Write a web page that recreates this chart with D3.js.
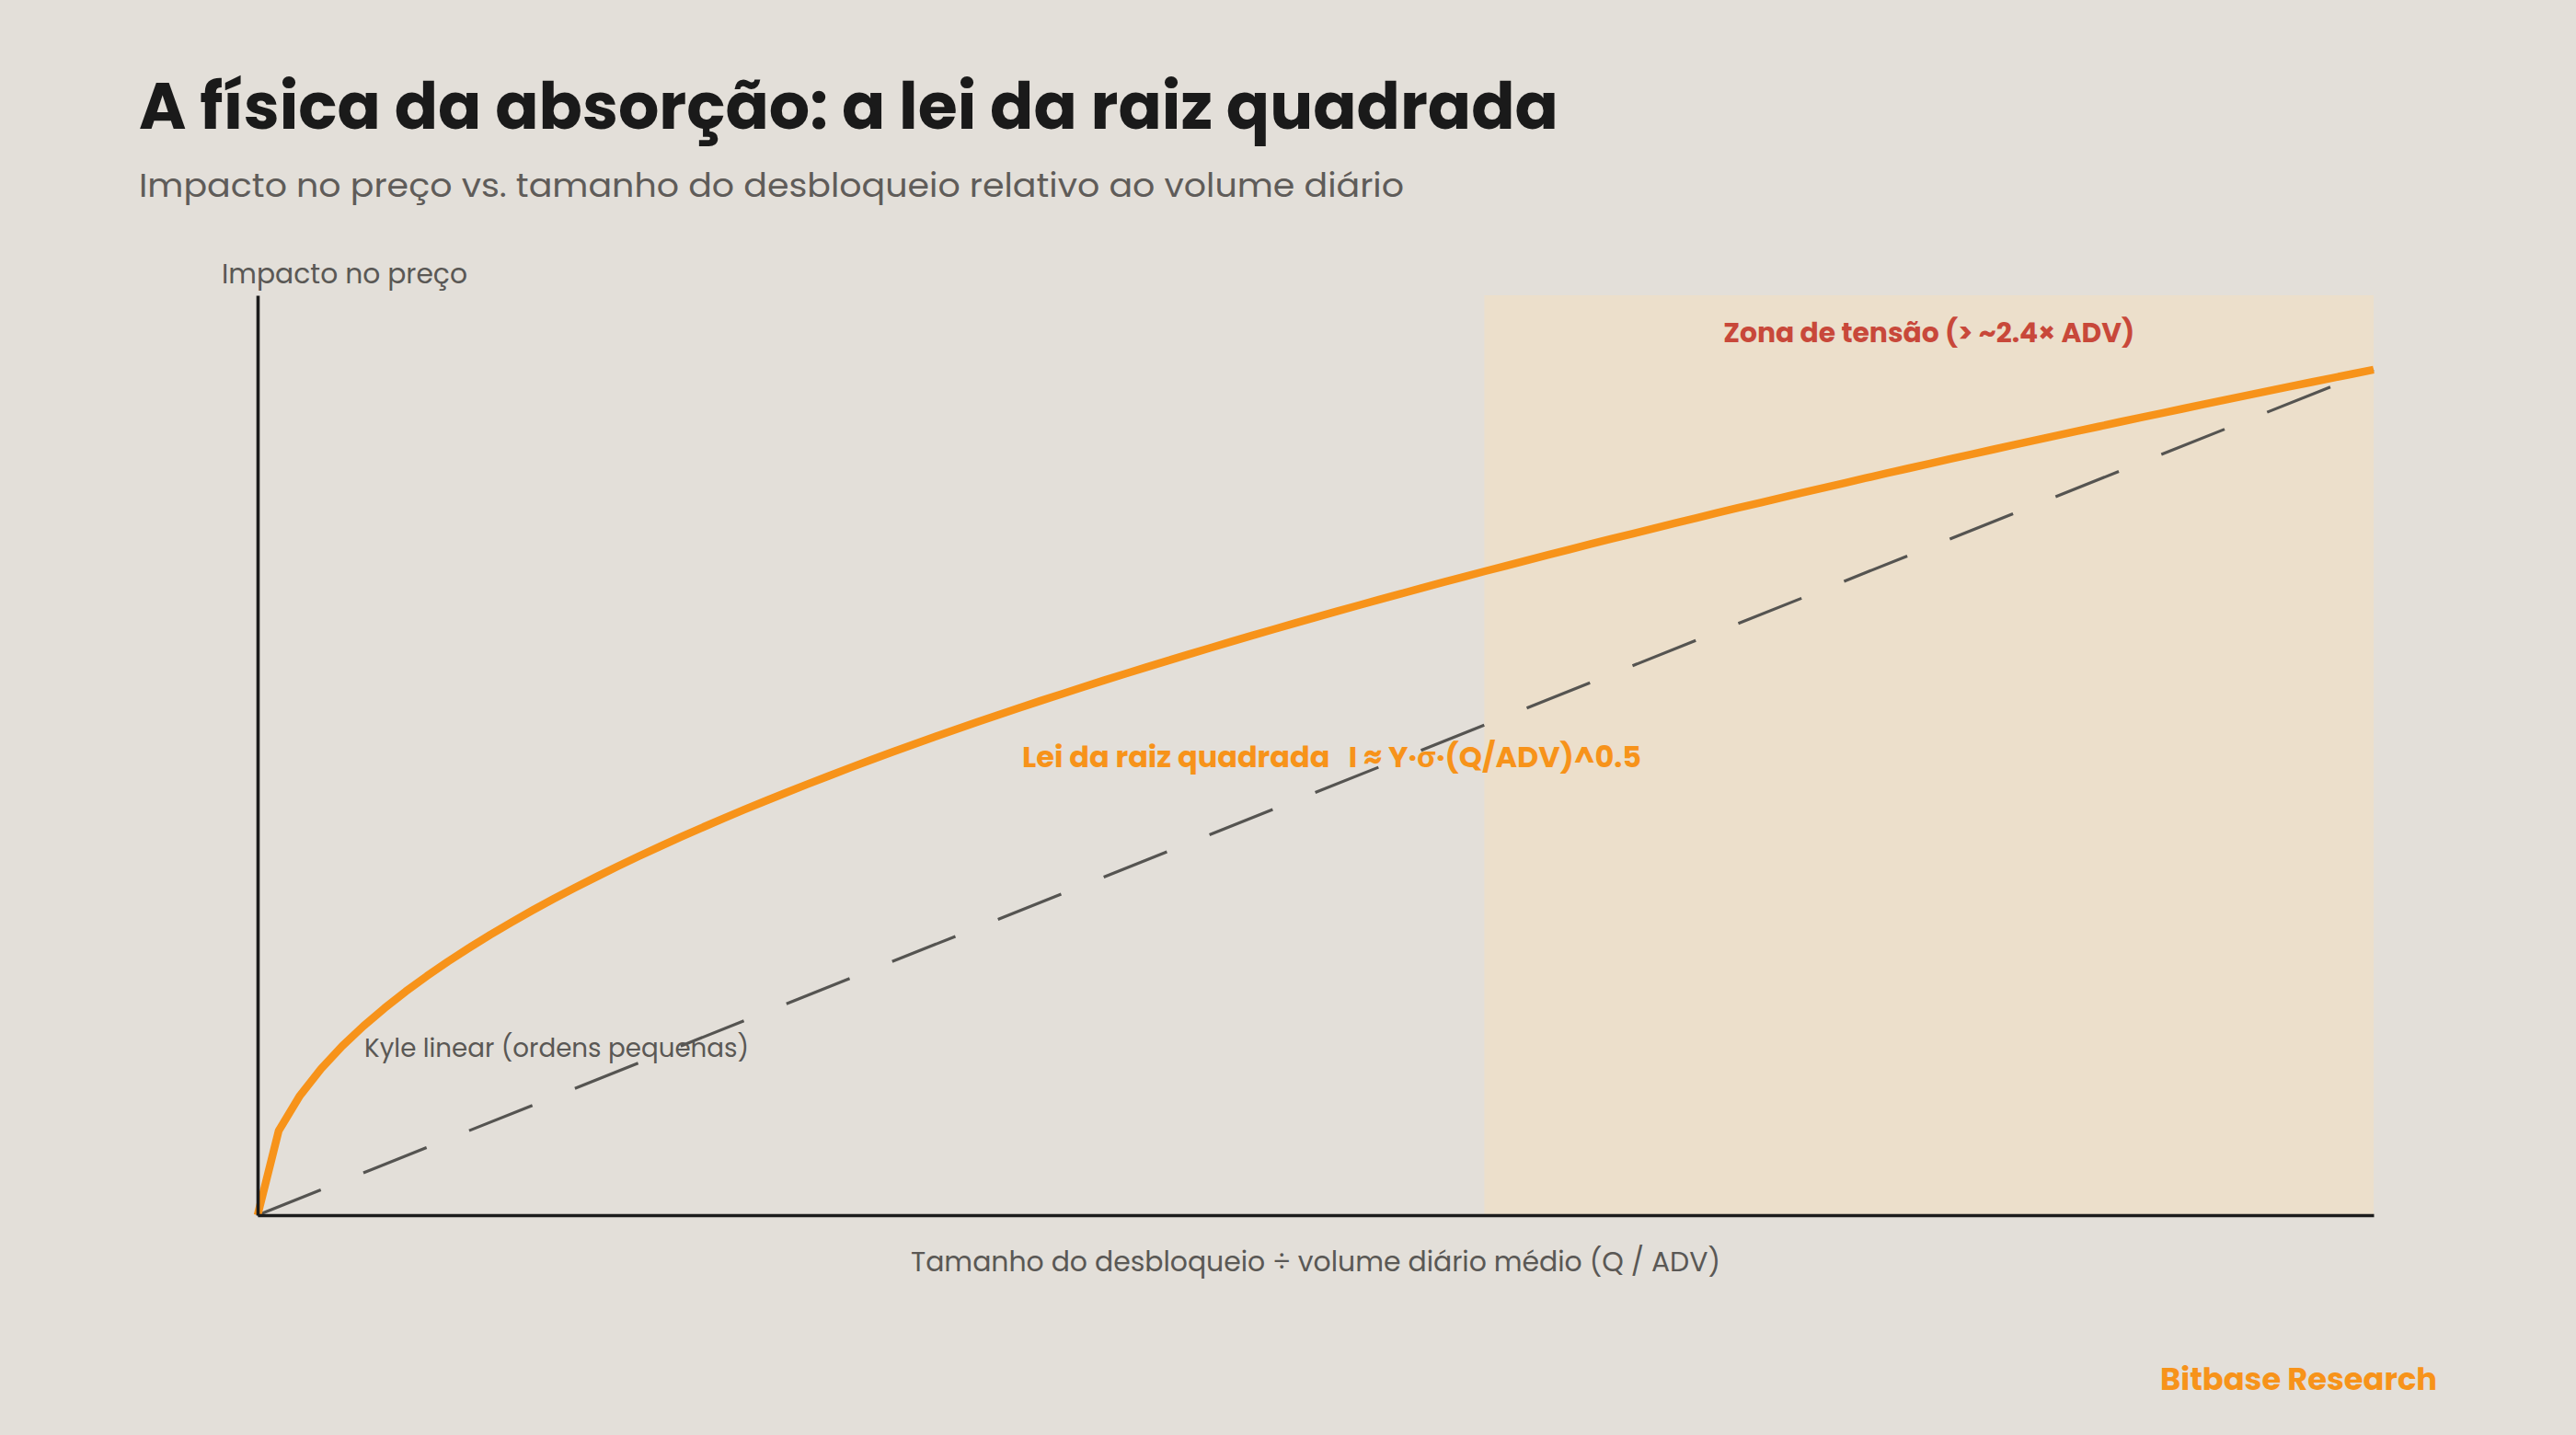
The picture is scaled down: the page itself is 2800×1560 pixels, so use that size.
<!DOCTYPE html>
<html>
<head>
<meta charset="utf-8">
<script src="https://cdn.jsdelivr.net/npm/d3@7"></script>
<style>
  html, body { margin: 0; padding: 0; background: #e3dfd9; }
  svg { display: block; }
  text { font-family: "Poppins", "Inter", "Noto Sans", sans-serif; }
</style>
</head>
<body>
<svg id="chart" width="2800" height="1560"></svg>
<script>
// ---------- data ----------
const titleText = "A física da absorção: a lei da raiz quadrada";
const subtitleText = "Impacto no preço vs. tamanho do desbloqueio relativo ao volume diário";
const yAxisLabel = "Impacto no preço";
const xAxisLabel = "Tamanho do desbloqueio ÷ volume diário médio (Q / ADV)";
const curveLabel = "Lei da raiz quadrada\u00A0\u00A0 I ≈ Y·σ·(Q/ADV)^0.5";
const kyleLabel = "Kyle linear (ordens pequenas)";
const zoneLabel = "Zona de tensão (> ~2.4× ADV)";
const sourceLabel = "Bitbase Research";

// Q/ADV sample points (x) and normalised price impact (y)
const qAdv = [0,0.0414,0.0828,0.1242,0.1656,0.207,0.2484,0.2898,0.3312,0.3726,
  0.414,0.4554,0.4968,0.5382,0.5796,0.621,0.6624,0.7038,0.7452,0.7866,
  0.828,0.8694,0.9108,0.9522,0.9936,1.035,1.0764,1.1178,1.1592,1.2006,
  1.242,1.2834,1.3248,1.3662,1.4076,1.449,1.4904,1.5318,1.5732,1.6146,
  1.656,1.6974,1.7388,1.7802,1.8216,1.863,1.9044,1.9458,1.9872,2.0286,
  2.07,2.1114,2.1528,2.1942,2.2356,2.277,2.3184,2.3598,2.4012,2.4426,
  2.484,2.5254,2.5668,2.6082,2.6496,2.691,2.7324,2.7738,2.8152,2.8566,
  2.898,2.9394,2.9808,3.0222,3.0636,3.105,3.1464,3.1878,3.2292,3.2706,
  3.312,3.3534,3.3948,3.4362,3.4776,3.519,3.5604,3.6018,3.6432,3.6846,
  3.726,3.7674,3.8088,3.8502,3.8916,3.933,3.9744,4.0158,4.0572,4.0986,4.14];
const sqrtImpact = [0,0.1,0.1414,0.1732,0.2,0.2236,0.2449,0.2646,0.2828,0.3,
  0.3162,0.3317,0.3464,0.3606,0.3742,0.3873,0.4,0.4123,0.4243,0.4359,
  0.4472,0.4583,0.469,0.4796,0.4899,0.5,0.5099,0.5196,0.5292,0.5385,
  0.5477,0.5568,0.5657,0.5745,0.5831,0.5916,0.6,0.6083,0.6164,0.6245,
  0.6325,0.6403,0.6481,0.6557,0.6633,0.6708,0.6782,0.6856,0.6928,0.7,
  0.7071,0.7141,0.7211,0.728,0.7348,0.7416,0.7483,0.755,0.7616,0.7681,
  0.7746,0.781,0.7874,0.7937,0.8,0.8062,0.8124,0.8185,0.8246,0.8307,
  0.8367,0.8426,0.8485,0.8544,0.8602,0.866,0.8718,0.8775,0.8832,0.8888,
  0.8944,0.9,0.9055,0.911,0.9165,0.922,0.9274,0.9327,0.9381,0.9434,
  0.9487,0.9539,0.9592,0.9644,0.9695,0.9747,0.9798,0.9849,0.9899,0.995,1];
// Kyle linear reference (two end points)
const kyleX = [0, 4.14];
const kyleY = [0, 1];
const zoneStart = 2.4;
const xMax = 4.14;
const yMax = 1.088;

// ---------- layout ----------
const W = 2800, H = 1560;
const plot = { left: 280, right: 2580, top: 321, bottom: 1321 };
const colors = {
  bg: "#e3dfd9", zone: "#ecdfcb", axis: "#1c1c1c", orange: "#f7931a",
  grey: "#5a5855", dash: "#555451", red: "#c8483a", title: "#1a1a1a", sub: "#5f5c59"
};

const svg = d3.select("#chart");
svg.append("rect").attr("width", W).attr("height", H).attr("fill", colors.bg);

const x = d3.scaleLinear().domain([0, xMax]).range([plot.left, plot.right]);
const y = d3.scaleLinear().domain([0, yMax]).range([plot.bottom, plot.top]);

function fitText(sel, width) {
  sel.attr("textLength", width).attr("lengthAdjust", "spacingAndGlyphs");
  return sel;
}

// zone
svg.append("rect")
  .attr("x", x(zoneStart)).attr("y", y(yMax))
  .attr("width", x(xMax) - x(zoneStart)).attr("height", y(0) - y(yMax))
  .attr("fill", colors.zone);

// kyle dashed line
const kyleData = kyleX.map((v, i) => [v, kyleY[i]]);
svg.append("path")
  .datum(kyleData)
  .attr("d", d3.line().x(d => x(d[0])).y(d => y(d[1])))
  .attr("fill", "none").attr("stroke", colors.dash)
  .attr("stroke-width", 3.2).attr("stroke-dasharray", "74 49.8");

// sqrt curve
const curveData = qAdv.map((v, i) => [v, sqrtImpact[i]]);
svg.append("path")
  .datum(curveData)
  .attr("d", d3.line().x(d => x(d[0])).y(d => y(d[1])))
  .attr("fill", "none").attr("stroke", colors.orange)
  .attr("stroke-width", 8.5).attr("stroke-linejoin", "round");

// axes (no ticks)
const xAxis = d3.axisBottom(x).tickValues([]).tickSizeOuter(0);
const yAxis = d3.axisLeft(y).tickValues([]).tickSizeOuter(0);
svg.append("g").attr("transform", `translate(0,${plot.bottom})`).call(xAxis)
  .select(".domain").attr("stroke", colors.axis).attr("stroke-width", 3.6);
svg.append("g").attr("transform", `translate(${plot.left},0)`).call(yAxis)
  .select(".domain").attr("stroke", colors.axis).attr("stroke-width", 3.6);

// titles
fitText(svg.append("text").attr("x", 151).attr("y", 140)
  .attr("font-size", 71).attr("font-weight", 700).attr("fill", colors.title)
  .text(titleText), 1543);
fitText(svg.append("text").attr("x", 151).attr("y", 214)
  .attr("font-size", 36).attr("font-weight", 400).attr("fill", colors.sub)
  .text(subtitleText), 1375);

// axis labels
fitText(svg.append("text").attr("x", 241).attr("y", 308)
  .attr("font-size", 30).attr("fill", colors.grey).text(yAxisLabel), 267);
fitText(svg.append("text").attr("x", (plot.left + plot.right) / 2).attr("y", 1382)
  .attr("text-anchor", "middle")
  .attr("font-size", 30).attr("fill", colors.grey).text(xAxisLabel), 880);

// annotations
fitText(svg.append("text").attr("x", x(0.209)).attr("y", y(0.187))
  .attr("font-size", 28).attr("fill", colors.grey).text(kyleLabel), 418);
fitText(svg.append("text").attr("x", x(1.496)).attr("y", y(0.53))
  .attr("font-size", 31).attr("font-weight", 700).attr("fill", colors.orange)
  .text(curveLabel), 673);
fitText(svg.append("text").attr("x", (x(zoneStart) + x(xMax)) / 2).attr("y", y(yMax) + 51)
  .attr("text-anchor", "middle")
  .attr("font-size", 30).attr("font-weight", 700).attr("fill", colors.red)
  .text(zoneLabel), 447);

// source
fitText(svg.append("text").attr("x", 2649).attr("y", 1511)
  .attr("text-anchor", "end")
  .attr("font-size", 33).attr("font-weight", 700).attr("fill", colors.orange)
  .text(sourceLabel), 301);
</script>
</body>
</html>
